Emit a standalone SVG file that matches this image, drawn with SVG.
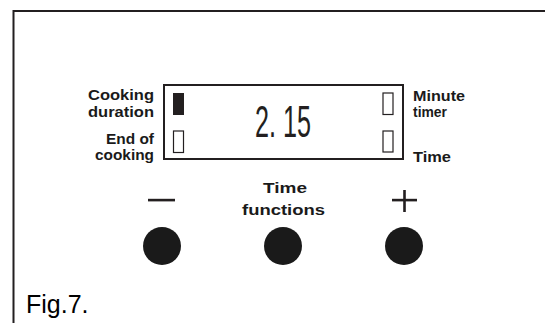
<svg xmlns="http://www.w3.org/2000/svg" width="545" height="325" viewBox="0 0 545 325">
<style>
.lbl{font-family:"Liberation Sans",Arial,sans-serif;font-weight:bold;font-size:15px;fill:#1a1a1a}
.frame{fill:none;stroke:#231f20;stroke-width:2}
.ind{fill:#fff;stroke:#231f20;stroke-width:1.2}
.btn{fill:#1a1a1a}
</style>
<rect width="545" height="325" fill="#fff"/>
<g id="frame"><path class="frame" d="M13.5,323 V11 H545"/></g>
<g id="display">
<rect x="164" y="85" width="239" height="74" fill="#fff" stroke="#231f20" stroke-width="2"/>
<rect x="173" y="93" width="11" height="22" fill="#231f20"/>
<rect class="ind" x="173.5" y="131" width="10" height="21.5"/>
<rect class="ind" x="383" y="93" width="10" height="21.5"/>
<rect class="ind" x="383" y="131" width="10" height="21"/>
<text x="255" y="137" font-family="Liberation Sans,Arial,sans-serif" font-size="44" fill="#231f20" textLength="56" lengthAdjust="spacingAndGlyphs">2. 15</text>
</g>
<g id="left-labels">
<text class="lbl" x="154" y="100" text-anchor="end" textLength="66" lengthAdjust="spacingAndGlyphs">Cooking</text>
<text class="lbl" x="154" y="117" text-anchor="end" textLength="66" lengthAdjust="spacingAndGlyphs">duration</text>
<text class="lbl" x="154" y="144" text-anchor="end" textLength="48" lengthAdjust="spacingAndGlyphs">End of</text>
<text class="lbl" x="154" y="160" text-anchor="end" textLength="59" lengthAdjust="spacingAndGlyphs">cooking</text>
</g>
<g id="right-labels">
<text class="lbl" x="413" y="101" textLength="52" lengthAdjust="spacingAndGlyphs">Minute</text>
<text class="lbl" x="413" y="117" textLength="34" lengthAdjust="spacingAndGlyphs">timer</text>
<text class="lbl" x="413" y="162" textLength="38" lengthAdjust="spacingAndGlyphs">Time</text>
</g>
<g id="minus-button">
<rect x="148" y="198.8" width="27" height="2.6" fill="#231f20"/>
<circle class="btn" cx="162" cy="246" r="19"/>
</g>
<g id="time-functions-button">
<text class="lbl" x="285" y="193" text-anchor="middle" textLength="44" lengthAdjust="spacingAndGlyphs">Time</text>
<text class="lbl" x="283.5" y="215" text-anchor="middle" textLength="83" lengthAdjust="spacingAndGlyphs">functions</text>
<circle class="btn" cx="283" cy="246" r="19"/>
</g>
<g id="plus-button">
<rect x="392" y="198.8" width="25" height="2.6" fill="#231f20"/>
<rect x="403.2" y="190" width="2.6" height="22" fill="#231f20"/>
<circle class="btn" cx="404" cy="246" r="19"/>
</g>
<g id="caption">
<text x="26" y="313" font-family="Liberation Sans,Arial,sans-serif" font-size="25" fill="#000">Fig.7.</text>
</g>
<g id="connectors"></g>
</svg>
